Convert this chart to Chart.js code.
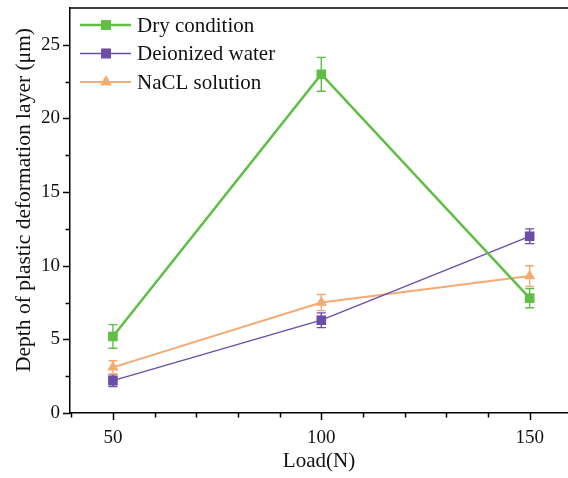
<!DOCTYPE html>
<html>
<head>
<meta charset="utf-8">
<script src="https://cdn.jsdelivr.net/npm/chart.js@4"></script>
<style>
  html, body { margin: 0; padding: 0; background: #fff; overflow: hidden; }
  #wrap { width: 568px; height: 478px; }
</style>
</head>
<body>
<div id="wrap"><canvas id="chart" width="568" height="478"></canvas></div>
<script>
// load steps and measured depths (µm) with their error bars
const loads = [50, 100, 150];
const dryDepth = [5.2, 23.0, 7.8];
const dryErr = [0.8, 1.15, 0.65];
const diDepth = [2.2, 6.3, 12.0];
const diErr = [0.4, 0.5, 0.5];
const naclDepth = [3.1, 7.5, 9.3];
const naclErr = [0.45, 0.55, 0.7];

const xTicks = [40, 50, 60, 70, 80, 90, 100, 110, 120, 130, 140, 150];
const xLabels = [50, 100, 150];
const yTicks = [0, 2.5, 5, 7.5, 10, 12.5, 15, 17.5, 20, 22.5, 25];
const yLabels = [0, 5, 10, 15, 20, 25];
const yTitle = "Depth of plastic deformation layer (μm)";

const GREEN = "#5fbf45";
const PURPLE = "#6b4ca8";
const ORANGE = "#f5aa72";
const FONT = "'Liberation Serif', 'Times New Roman', serif";

function pts(vals){ return vals.map((v,i)=>({x: loads[i], y: v})); }

const series = [
  {label:"Dry condition", data: dryDepth, err: dryErr, color: GREEN, width: 2.5, style: "rect", r: 6.8},
  {label:"Deionized water", data: diDepth, err: diErr, color: PURPLE, width: 1.3, style: "rect", r: 6.8},
  {label:"NaCL solution", data: naclDepth, err: naclErr, color: ORANGE, width: 2, style: "triangle", r: 6.5}
];

// error bars, drawn under the markers
const errorBars = {
  id: "errorBars",
  beforeDatasetsDraw(chart){
    const ctx = chart.ctx, xs = chart.scales.x, ys = chart.scales.y;
    ctx.save();
    series.forEach(s=>{
      ctx.strokeStyle = s.color;
      ctx.lineWidth = 1.4;
      s.data.forEach((v,i)=>{
        const px = xs.getPixelForValue(loads[i]);
        const top = ys.getPixelForValue(v + s.err[i]);
        const bot = ys.getPixelForValue(v - s.err[i]);
        ctx.beginPath();
        ctx.moveTo(px, top); ctx.lineTo(px, bot);
        ctx.moveTo(px-4.5, top); ctx.lineTo(px+4.5, top);
        ctx.moveTo(px-4.5, bot); ctx.lineTo(px+4.5, bot);
        ctx.stroke();
      });
    });
    ctx.restore();
  }
};

// outward tick marks (long on labelled ticks), top frame line, y title and legend
const frame = {
  id: "frame",
  afterDraw(chart){
    const ctx = chart.ctx, a = chart.chartArea, xs = chart.scales.x, ys = chart.scales.y;
    ctx.save();
    ctx.strokeStyle = "#000";
    ctx.lineWidth = 1.5;
    ctx.beginPath();
    ctx.moveTo(a.left, a.top); ctx.lineTo(chart.width, a.top);
    xTicks.forEach(t=>{
      if(t <= xs.min) return;
      const px = Math.round(xs.getPixelForValue(t)) + 0.5;
      const len = xLabels.includes(t) ? 7 : 4.5;
      ctx.moveTo(px, a.bottom); ctx.lineTo(px, a.bottom + len);
    });
    yTicks.forEach(t=>{
      const py = Math.round(ys.getPixelForValue(t)) + 0.5;
      const len = yLabels.includes(t) ? 7 : 4.5;
      ctx.moveTo(a.left, py); ctx.lineTo(a.left - len, py);
    });
    ctx.stroke();

    ctx.save();
    ctx.translate(24, 200);
    ctx.rotate(-Math.PI/2);
    ctx.font = "21.5px " + FONT;
    ctx.fillStyle = "#111";
    ctx.textAlign = "center";
    ctx.textBaseline = "middle";
    ctx.fillText(yTitle, 0, 0);
    ctx.restore();

    ctx.font = "21px " + FONT;
    ctx.textBaseline = "middle";
    ctx.textAlign = "left";
    series.forEach((s,i)=>{
      const y = 25 + i*28.5;
      ctx.strokeStyle = s.color;
      ctx.lineWidth = s.width;
      ctx.beginPath();
      ctx.moveTo(80, y); ctx.lineTo(131, y);
      ctx.stroke();
      ctx.fillStyle = s.color;
      Chart.helpers.drawPoint(ctx, {pointStyle: s.style, radius: s.r, rotation: 0, borderWidth: 0}, 106, y);
      ctx.fill();
      ctx.fillStyle = "#111";
      ctx.fillText(s.label, 137, y + 1);
    });
    ctx.restore();
  }
};

function noPad(scale){
  scale.paddingTop = 0; scale.paddingBottom = 0;
  scale.paddingLeft = 0; scale.paddingRight = 0;
}

new Chart(document.getElementById("chart"), {
  type: "line",
  data: {
    datasets: series.map(s=>({
      label: s.label,
      data: pts(s.data),
      borderColor: s.color,
      backgroundColor: s.color,
      borderWidth: s.width,
      pointStyle: s.style,
      pointRadius: s.r,
      pointHoverRadius: s.r,
      pointBorderWidth: 0,
      tension: 0
    }))
  },
  options: {
    responsive: false,
    animation: false,
    events: [],
    layout: {autoPadding: false, padding: {top: 8, right: 0, left: 0, bottom: 0}},
    plugins: {legend: {display: false}, tooltip: {enabled: false}},
    scales: {
      x: {
        type: "linear",
        min: 39.7,
        max: 159.2,
        afterFit(scale){ scale.height = 65; noPad(scale); },
        afterBuildTicks(scale){ scale.ticks = xLabels.map(v=>({value: v})); },
        grid: {display: false, drawTicks: false},
        border: {display: true, color: "#000", width: 1.5},
        ticks: {padding: 14, color: "#111", font: {family: FONT, size: 19}, maxRotation: 0},
        title: {display: true, text: "Load(N)", color: "#111", font: {family: FONT, size: 21}, padding: {top: 1}}
      },
      y: {
        min: 0,
        max: 27.5,
        afterFit(scale){ scale.width = 70; noPad(scale); },
        afterBuildTicks(scale){ scale.ticks = yLabels.map(v=>({value: v})); },
        grid: {display: false, drawTicks: false},
        border: {display: true, color: "#000", width: 1.5},
        ticks: {padding: 10, color: "#111", font: {family: FONT, size: 19}}
      }
    }
  },
  plugins: [errorBars, frame]
});
</script>
</body>
</html>
